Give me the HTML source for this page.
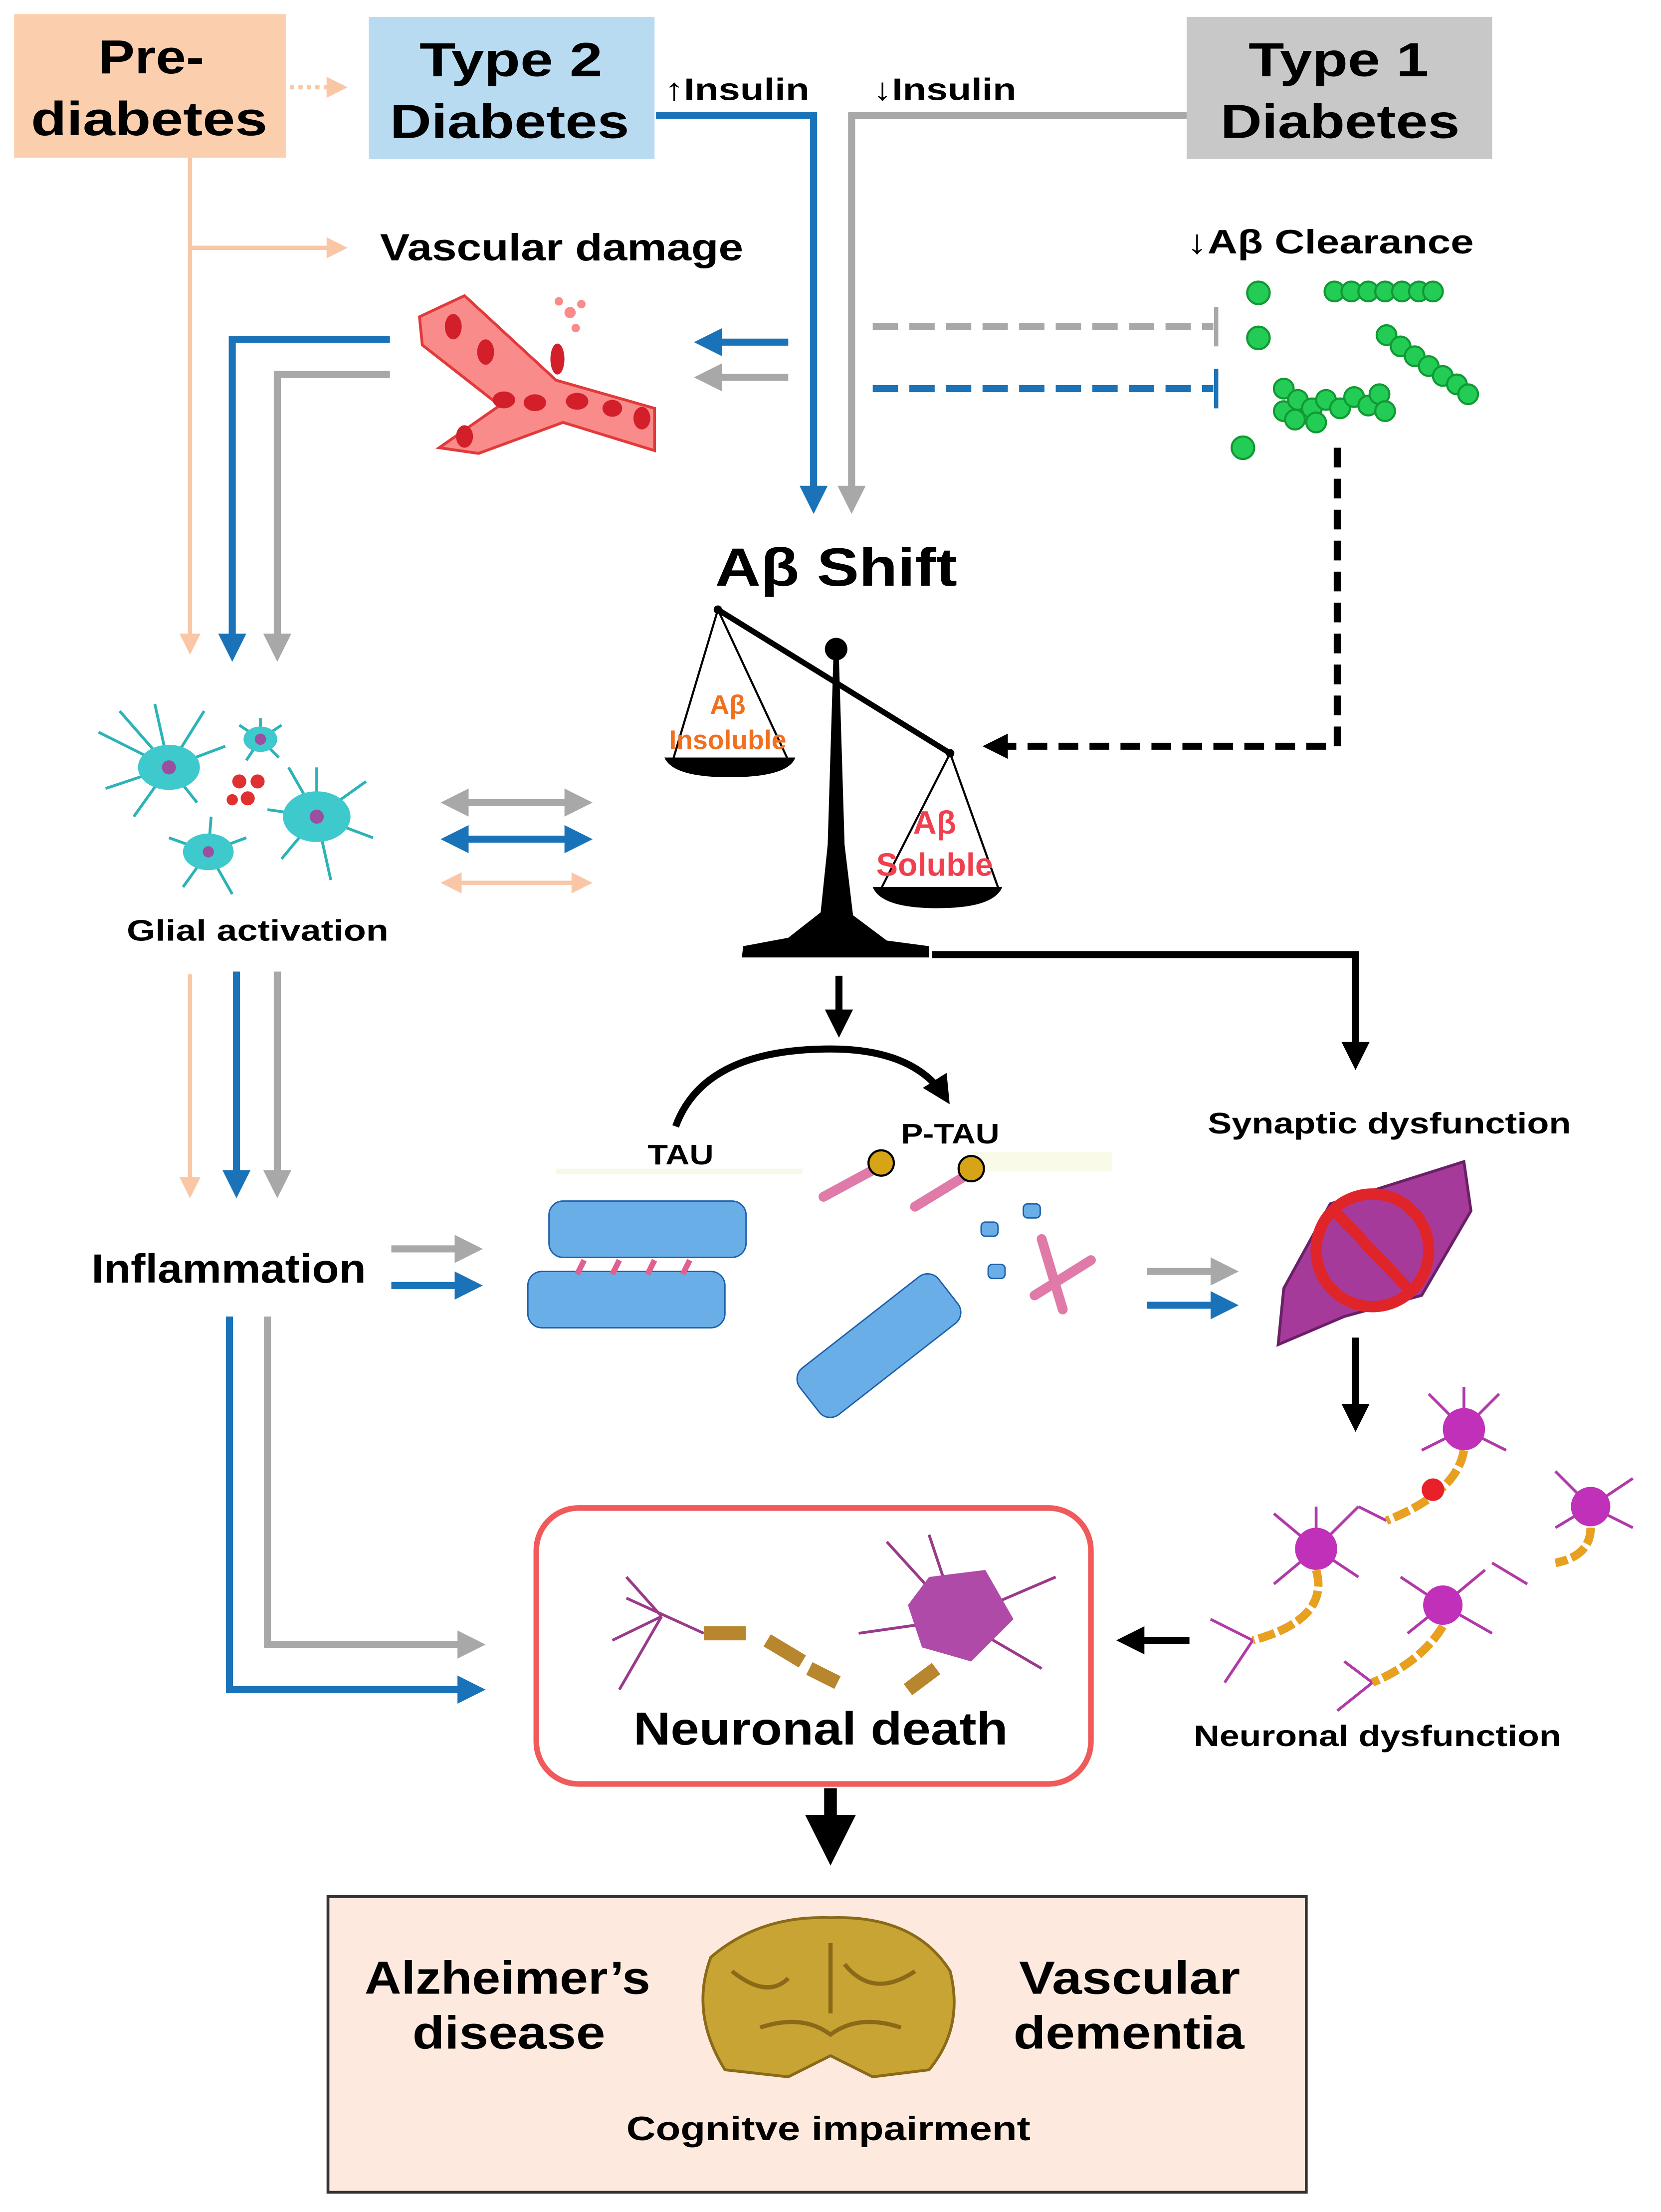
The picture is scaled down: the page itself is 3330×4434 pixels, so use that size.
<!DOCTYPE html>
<html><head><meta charset="utf-8"><style>html,body{margin:0;padding:0;background:#fff}svg{display:block}</style></head>
<body>
<svg width="3330" height="4434" viewBox="0 0 1180 1571" preserveAspectRatio="none" xmlns="http://www.w3.org/2000/svg" font-family="'Liberation Sans', sans-serif" font-weight="bold">
<defs>
<marker id="ab" markerWidth="4" markerHeight="4" refX="3" refY="2" orient="auto-start-reverse" markerUnits="strokeWidth"><path d="M0,0 L4,2 L0,4 z" fill="#1a73b8"/></marker>
<marker id="ag" markerWidth="4" markerHeight="4" refX="3" refY="2" orient="auto-start-reverse" markerUnits="strokeWidth"><path d="M0,0 L4,2 L0,4 z" fill="#a8a8a8"/></marker>
<marker id="ap" markerWidth="5" markerHeight="5" refX="4" refY="2.5" orient="auto-start-reverse" markerUnits="strokeWidth"><path d="M0,0 L5,2.5 L0,5 z" fill="#f9c7a6"/></marker>
<marker id="ak" markerWidth="4" markerHeight="4" refX="3" refY="2" orient="auto" markerUnits="strokeWidth"><path d="M0,0 L4,2 L0,4 z" fill="#000"/></marker>
</defs>
<rect width="1180" height="1571" fill="#fff"/>
<g lengthAdjust="spacingAndGlyphs">
<rect x="10" y="10" width="193" height="102" fill="#fbcfae"/>
<text x="70" y="52" font-size="34" textLength="75" lengthAdjust="spacingAndGlyphs">Pre-</text>
<text x="22" y="96" font-size="34" textLength="168" lengthAdjust="spacingAndGlyphs">diabetes</text>
<rect x="262" y="12" width="203" height="101" fill="#b9dbf1"/>
<text x="298" y="54" font-size="34" textLength="130" lengthAdjust="spacingAndGlyphs">Type 2</text>
<text x="277" y="98" font-size="34" textLength="170" lengthAdjust="spacingAndGlyphs">Diabetes</text>
<rect x="843" y="12" width="217" height="101" fill="#c8c8c8"/>
<text x="887" y="54" font-size="34" textLength="128" lengthAdjust="spacingAndGlyphs">Type 1</text>
<text x="867" y="98" font-size="34" textLength="170" lengthAdjust="spacingAndGlyphs">Diabetes</text>
</g>
<line x1="206" y1="62" x2="244" y2="62" stroke="#f9c7a6" stroke-width="3" stroke-dasharray="3,3" marker-end="url(#ap)"/>
<text x="472" y="71" font-size="22" textLength="103" lengthAdjust="spacingAndGlyphs">↑Insulin</text>
<text x="620" y="71" font-size="22" textLength="102" lengthAdjust="spacingAndGlyphs">↓Insulin</text>
<polyline points="466,82 578,82 578,360" fill="none" stroke="#1a73b8" stroke-width="5" marker-end="url(#ab)"/>
<polyline points="843,82 605,82 605,360" fill="none" stroke="#a8a8a8" stroke-width="5" marker-end="url(#ag)"/>
<line x1="135" y1="112" x2="135" y2="462" stroke="#f9c7a6" stroke-width="3" marker-end="url(#ap)"/>
<line x1="135" y1="176" x2="244" y2="176" stroke="#f9c7a6" stroke-width="3" marker-end="url(#ap)"/>
<text x="270" y="185" font-size="27" textLength="258" lengthAdjust="spacingAndGlyphs">Vascular damage</text>
<g fill="#f98b8b" stroke="#e23a3a" stroke-width="2">
<path d="M298,225 L330,210 L395,270 L465,290 L465,320 L400,300 L340,322 L312,318 L355,288 L300,245 Z"/>
</g>
<g fill="#d31f2a"><ellipse cx="322" cy="232" rx="6" ry="9"/><ellipse cx="345" cy="250" rx="6" ry="9"/><ellipse cx="396" cy="255" rx="5" ry="11"/><ellipse cx="358" cy="284" rx="8" ry="6"/><ellipse cx="380" cy="286" rx="8" ry="6"/><ellipse cx="410" cy="285" rx="8" ry="6"/><ellipse cx="435" cy="290" rx="7" ry="6"/><ellipse cx="456" cy="297" rx="6" ry="8"/><ellipse cx="330" cy="310" rx="6" ry="8"/></g>
<g fill="#f98b8b"><circle cx="405" cy="222" r="4"/><circle cx="413" cy="216" r="3"/><circle cx="397" cy="214" r="3"/><circle cx="409" cy="233" r="3"/></g>
<line x1="560" y1="243" x2="498" y2="243" stroke="#1a73b8" stroke-width="5" marker-end="url(#ab)"/>
<line x1="560" y1="268" x2="498" y2="268" stroke="#a8a8a8" stroke-width="5" marker-end="url(#ag)"/>
<polyline points="277,241 165,241 165,465" fill="none" stroke="#1a73b8" stroke-width="5" marker-end="url(#ab)"/>
<polyline points="277,266 197,266 197,465" fill="none" stroke="#a8a8a8" stroke-width="5" marker-end="url(#ag)"/>
<text x="843" y="180" font-size="24" textLength="204" lengthAdjust="spacingAndGlyphs">↓Aβ Clearance</text>
<line x1="620" y1="232" x2="862" y2="232" stroke="#a8a8a8" stroke-width="5" stroke-dasharray="18,8"/>
<line x1="864" y1="218" x2="864" y2="246" stroke="#a8a8a8" stroke-width="3"/>
<line x1="620" y1="276" x2="862" y2="276" stroke="#1a73b8" stroke-width="5" stroke-dasharray="18,8"/>
<line x1="864" y1="262" x2="864" y2="290" stroke="#1a73b8" stroke-width="3"/>
<g fill="#22cc55" stroke="#119933" stroke-width="1.5">
<circle cx="894" cy="208" r="8"/><circle cx="894" cy="240" r="8"/><circle cx="883" cy="318" r="8"/>
<circle cx="948" cy="207" r="7"/><circle cx="960" cy="207" r="7"/><circle cx="972" cy="207" r="7"/><circle cx="984" cy="207" r="7"/><circle cx="996" cy="207" r="7"/><circle cx="1008" cy="207" r="7"/><circle cx="1018" cy="207" r="7"/>
<circle cx="985" cy="238" r="7"/><circle cx="995" cy="246" r="7"/><circle cx="1005" cy="253" r="7"/><circle cx="1015" cy="260" r="7"/><circle cx="1025" cy="267" r="7"/><circle cx="1035" cy="273" r="7"/><circle cx="1043" cy="280" r="7"/>
<circle cx="912" cy="276" r="7"/><circle cx="912" cy="292" r="7"/><circle cx="922" cy="284" r="7"/><circle cx="932" cy="290" r="7"/><circle cx="942" cy="284" r="7"/><circle cx="952" cy="290" r="7"/><circle cx="962" cy="282" r="7"/><circle cx="972" cy="288" r="7"/><circle cx="980" cy="280" r="7"/><circle cx="984" cy="292" r="7"/><circle cx="920" cy="298" r="7"/><circle cx="935" cy="300" r="7"/>
</g>
<polyline points="950,318 950,530 712,530" fill="none" stroke="#000" stroke-width="5" stroke-dasharray="14,8"/>
<path d="M698,530 L716,521 L716,539 Z" fill="#000"/>
<text x="508" y="416" font-size="38" textLength="172" lengthAdjust="spacingAndGlyphs">Aβ Shift</text>
<line x1="510" y1="433" x2="675" y2="535" stroke="#000" stroke-width="4"/>
<circle cx="510" cy="433" r="3"/><circle cx="675" cy="535" r="3"/>
<circle cx="594" cy="461" r="8"/>
<path d="M592,468 L596,468 L600,600 L606,650 L630,668 L660,672 L660,680 L527,680 L528,672 L560,666 L583,648 L588,600 Z" fill="#000"/>
<line x1="510" y1="433" x2="478" y2="540" stroke="#000" stroke-width="1.5"/><line x1="510" y1="433" x2="560" y2="540" stroke="#000" stroke-width="1.5"/>
<path d="M472,538 L565,538 Q560,552 518,552 Q478,552 472,538 Z" fill="#000"/>
<text x="517" y="507" font-size="19" fill="#f07020" text-anchor="middle">Aβ</text>
<text x="517" y="532" font-size="19" fill="#f07020" text-anchor="middle">Insoluble</text>
<line x1="675" y1="535" x2="625" y2="633" stroke="#000" stroke-width="1.5"/><line x1="675" y1="535" x2="710" y2="633" stroke="#000" stroke-width="1.5"/>
<path d="M620,630 L712,630 Q706,645 666,645 Q626,645 620,630 Z" fill="#000"/>
<text x="664" y="592" font-size="23" fill="#f04050" text-anchor="middle">Aβ</text>
<text x="664" y="622" font-size="23" fill="#f04050" text-anchor="middle">Soluble</text>
<g stroke="#2bb3b8" stroke-width="2" fill="none">
<path d="M70,520 L120,545 M85,505 L120,545 M110,500 L120,545 M145,505 L120,545 M160,530 L120,545 M75,560 L120,545 M95,580 L120,545 M140,570 L120,545"/>
<path d="M185,510 L185,525 M170,515 L185,525 M200,515 L185,525 M175,540 L185,525 M198,538 L185,525"/>
<path d="M225,545 L225,580 M260,555 L225,580 M265,595 L225,580 M235,625 L225,580 M200,610 L225,580 M190,575 L225,580 M205,545 L225,580"/>
<path d="M120,595 L148,605 M130,630 L148,605 M165,635 L148,605 M175,595 L148,605 M150,580 L148,605"/>
</g>
<g fill="#3ec9cc"><ellipse cx="120" cy="545" rx="22" ry="16"/><ellipse cx="185" cy="525" rx="12" ry="9"/><ellipse cx="225" cy="580" rx="24" ry="18"/><ellipse cx="148" cy="605" rx="18" ry="13"/></g>
<g fill="#9b4fa0"><circle cx="120" cy="545" r="5"/><circle cx="185" cy="525" r="4"/><circle cx="225" cy="580" r="5"/><circle cx="148" cy="605" r="4"/></g>
<g fill="#e03030"><circle cx="170" cy="555" r="5"/><circle cx="183" cy="555" r="5"/><circle cx="176" cy="567" r="5"/><circle cx="165" cy="568" r="4"/></g>
<text x="90" y="668" font-size="21" textLength="186" lengthAdjust="spacingAndGlyphs">Glial  activation</text>
<line x1="318" y1="570" x2="416" y2="570" stroke="#a8a8a8" stroke-width="5" marker-start="url(#ag)" marker-end="url(#ag)"/>
<line x1="318" y1="596" x2="416" y2="596" stroke="#1a73b8" stroke-width="5" marker-start="url(#ab)" marker-end="url(#ab)"/>
<line x1="316" y1="627" x2="418" y2="627" stroke="#f9c7a6" stroke-width="3" marker-start="url(#ap)" marker-end="url(#ap)"/>
<line x1="135" y1="692" x2="135" y2="848" stroke="#f9c7a6" stroke-width="3" marker-end="url(#ap)"/>
<line x1="168" y1="690" x2="168" y2="846" stroke="#1a73b8" stroke-width="5" marker-end="url(#ab)"/>
<line x1="197" y1="690" x2="197" y2="846" stroke="#a8a8a8" stroke-width="5" marker-end="url(#ag)"/>
<text x="65" y="911" font-size="29" textLength="195" lengthAdjust="spacingAndGlyphs">Inflammation</text>
<line x1="278" y1="887" x2="338" y2="887" stroke="#a8a8a8" stroke-width="5" marker-end="url(#ag)"/>
<line x1="278" y1="913" x2="338" y2="913" stroke="#1a73b8" stroke-width="5" marker-end="url(#ab)"/>
<polyline points="163,935 163,1200 340,1200" fill="none" stroke="#1a73b8" stroke-width="5" marker-end="url(#ab)"/>
<polyline points="190,935 190,1168 340,1168" fill="none" stroke="#a8a8a8" stroke-width="5" marker-end="url(#ag)"/>
<line x1="596" y1="693" x2="596" y2="732" stroke="#000" stroke-width="5" marker-end="url(#ak)"/>
<path d="M480,800 Q500,745 590,745 Q650,745 672,780" fill="none" stroke="#000" stroke-width="5" marker-end="url(#ak)"/>
<polyline points="662,678 963,678 963,755" fill="none" stroke="#000" stroke-width="5" marker-end="url(#ak)"/>
<text x="858" y="805" font-size="21" textLength="258" lengthAdjust="spacingAndGlyphs">Synaptic dysfunction</text>
<text x="460" y="827" font-size="20" textLength="47" lengthAdjust="spacingAndGlyphs">TAU</text>
<text x="640" y="812" font-size="20" textLength="70" lengthAdjust="spacingAndGlyphs">P-TAU</text>
<rect x="395" y="830" width="175" height="4" fill="#f8f8e6"/><rect x="690" y="818" width="100" height="14" fill="#fafae8"/>
<g fill="#6aaee8" stroke="#1d5fa8" stroke-width="1">
<rect x="390" y="853" width="140" height="40" rx="10"/><rect x="375" y="903" width="140" height="40" rx="10"/>
<rect x="562" y="935" width="125" height="42" rx="10" transform="rotate(-38 624 956)"/>
<rect x="697" y="868" width="12" height="10" rx="3"/><rect x="727" y="855" width="12" height="10" rx="3"/><rect x="702" y="898" width="12" height="10" rx="3"/>
</g>
<g stroke="#e06090" stroke-width="4"><line x1="415" y1="895" x2="410" y2="905"/><line x1="440" y1="895" x2="435" y2="905"/><line x1="465" y1="895" x2="460" y2="905"/><line x1="490" y1="895" x2="485" y2="905"/></g>
<g stroke="#e07aa8" stroke-width="7" stroke-linecap="round"><line x1="585" y1="850" x2="622" y2="830"/><line x1="650" y1="857" x2="686" y2="835"/><line x1="740" y1="880" x2="755" y2="930"/><line x1="735" y1="920" x2="775" y2="895"/></g>
<g fill="#d7a317" stroke="#000" stroke-width="1.5"><circle cx="626" cy="826" r="9"/><circle cx="690" cy="830" r="9"/></g>
<line x1="815" y1="903" x2="875" y2="903" stroke="#a8a8a8" stroke-width="5" marker-end="url(#ag)"/>
<line x1="815" y1="927" x2="875" y2="927" stroke="#1a73b8" stroke-width="5" marker-end="url(#ab)"/>
<path d="M1040,825 L1045,860 L1010,920 L955,935 L908,955 L912,915 L945,855 Z" fill="#a53a9a" stroke="#6a1f66" stroke-width="2"/>
<circle cx="975" cy="888" r="40" fill="none" stroke="#e0252a" stroke-width="8"/>
<line x1="948" y1="860" x2="1003" y2="918" stroke="#e0252a" stroke-width="8"/>
<line x1="963" y1="950" x2="963" y2="1012" stroke="#000" stroke-width="5" marker-end="url(#ak)"/>
<g stroke="#b03aa8" stroke-width="2" fill="none">
<path d="M1040,1015 L1015,990 M1040,1015 L1065,990 M1040,1015 L1070,1030 M1040,1015 L1010,1030 M1040,1015 L1040,985"/>
<path d="M935,1100 L905,1075 M935,1100 L965,1070 M935,1100 L965,1120 M935,1100 L905,1125 M935,1100 L935,1070"/>
<path d="M1130,1070 L1105,1045 M1130,1070 L1160,1050 M1130,1070 L1160,1085 M1130,1070 L1105,1085"/>
<path d="M1025,1140 L995,1120 M1025,1140 L1055,1115 M1025,1140 L1060,1160 M1025,1140 L1000,1160"/>
<path d="M890,1165 L860,1150 M890,1165 L870,1195 M975,1195 L950,1215 M975,1195 L955,1180 M985,1080 L965,1070 M1085,1125 L1060,1110"/>
</g>
<g fill="#c030b8"><circle cx="1040" cy="1015" r="15"/><circle cx="935" cy="1100" r="15"/><circle cx="1130" cy="1070" r="14"/><circle cx="1025" cy="1140" r="14"/></g>
<g stroke="#e8a020" stroke-width="6" fill="none" stroke-dasharray="12,3"><path d="M1040,1030 Q1035,1060 985,1080"/><path d="M935,1115 Q945,1150 890,1165"/><path d="M1025,1155 Q1010,1180 975,1195"/><path d="M1130,1085 Q1130,1105 1105,1110"/></g>
<circle cx="1018" cy="1058" r="8" fill="#e8202a"/>
<text x="848" y="1240" font-size="21" textLength="261" lengthAdjust="spacingAndGlyphs">Neuronal dysfunction</text>
<line x1="845" y1="1165" x2="798" y2="1165" stroke="#000" stroke-width="5" marker-end="url(#ak)"/>
<rect x="381" y="1071" width="394" height="196" rx="30" fill="#fff" stroke="#f05a5a" stroke-width="4"/>
<g stroke="#9a3a8a" stroke-width="2" fill="none"><path d="M500,1160 L445,1135 M470,1148 L440,1200 M470,1148 L435,1165 M470,1148 L445,1120 M680,1150 L630,1095 M680,1150 L750,1120 M680,1150 L740,1185 M680,1150 L610,1160 M680,1150 L660,1090"/></g>
<path d="M660,1120 L700,1115 L720,1150 L690,1180 L655,1170 L645,1140 Z" fill="#b04aa8"/>
<g stroke="#b8862e" stroke-width="10"><line x1="500" y1="1160" x2="530" y2="1160"/><line x1="545" y1="1165" x2="570" y2="1180"/><line x1="575" y1="1185" x2="595" y2="1195"/><line x1="665" y1="1185" x2="645" y2="1200"/></g>
<text x="450" y="1239" font-size="33" textLength="266" lengthAdjust="spacingAndGlyphs">Neuronal death</text>
<line x1="590" y1="1270" x2="590" y2="1316" stroke="#000" stroke-width="9" marker-end="url(#ak)"/>
<rect x="233" y="1347" width="695" height="210" fill="#fde9dd" stroke="#333" stroke-width="2"/>
<text x="259" y="1416" font-size="33" textLength="203" lengthAdjust="spacingAndGlyphs">Alzheimer’s</text>
<text x="293" y="1455" font-size="33" textLength="137" lengthAdjust="spacingAndGlyphs">disease</text>
<text x="724" y="1416" font-size="33" textLength="157" lengthAdjust="spacingAndGlyphs">Vascular</text>
<text x="720" y="1455" font-size="33" textLength="164" lengthAdjust="spacingAndGlyphs">dementia</text>
<path d="M505,1390 Q540,1360 590,1362 Q650,1360 675,1400 Q685,1440 660,1470 L620,1475 L590,1460 L560,1475 L515,1470 Q490,1430 505,1390 Z" fill="#c8a435" stroke="#8a6a18" stroke-width="2"/>
<g stroke="#8a6a18" stroke-width="3" fill="none"><path d="M520,1400 Q545,1420 560,1405 M600,1395 Q620,1420 650,1400 M540,1440 Q570,1430 590,1445 Q610,1430 640,1440 M590,1380 L590,1430"/></g>
<text x="445" y="1520" font-size="24" textLength="287" lengthAdjust="spacingAndGlyphs">Cognitve impairment</text>
</svg>
</body></html>
